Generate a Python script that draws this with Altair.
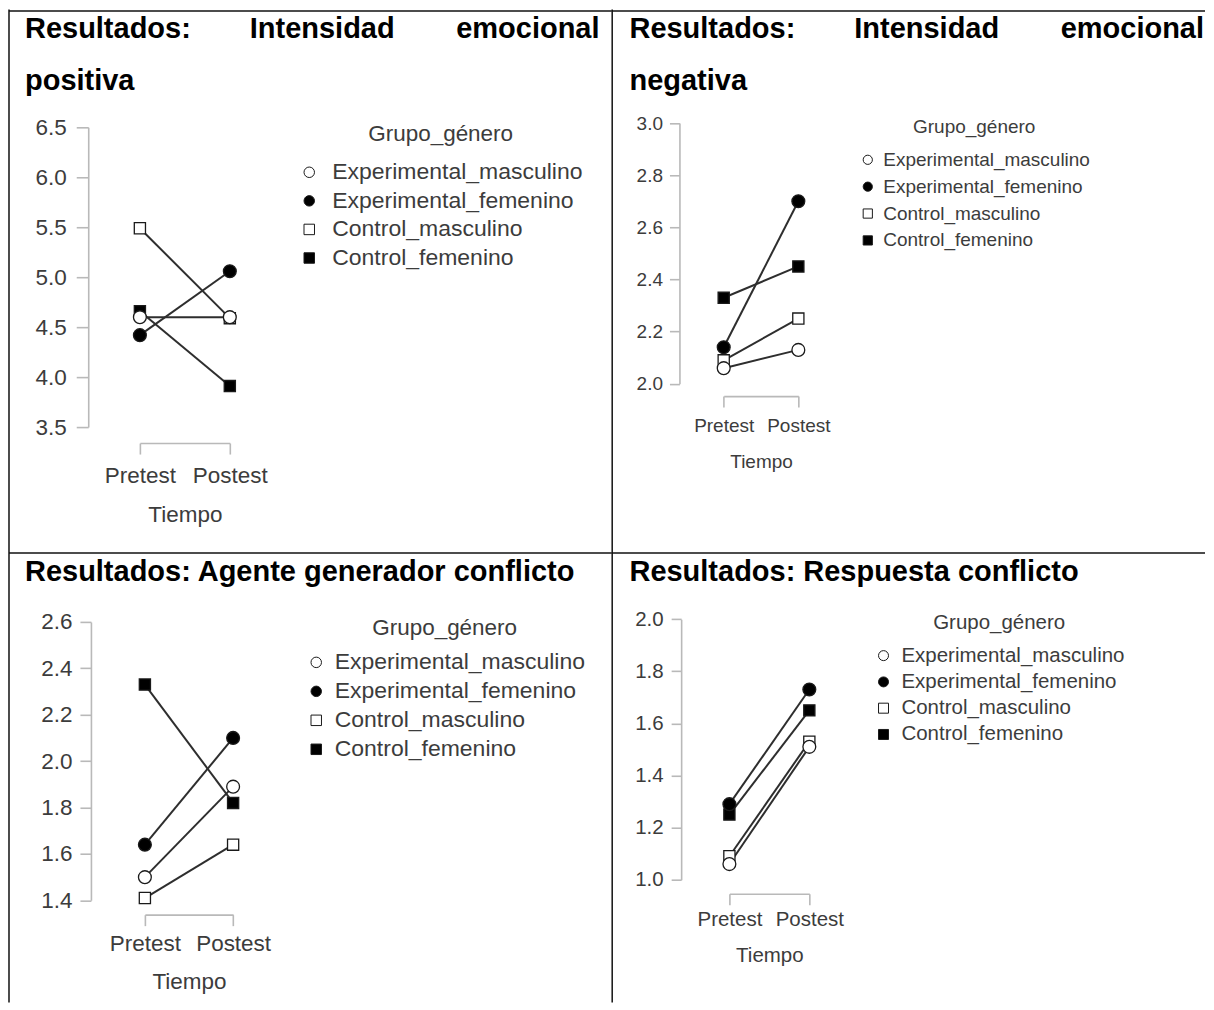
import altair as alt
import pandas as pd

# ---------------- data ----------------
tiempo = ["Pretest", "Postest"]
grupos = ["Experimental_masculino", "Experimental_femenino",
          "Control_masculino", "Control_femenino"]
rellenos = ["white", "black", "white", "black"]
formas = ["circle", "circle", "square", "square"]
bordes = ["#1a1a1a", "#1a1a1a", "#1a1a1a", "#1a1a1a"]

positiva_pre = [4.60, 4.42, 5.49, 4.66]
positiva_post = [4.60, 5.06, 4.59, 3.91]
negativa_pre = [2.06, 2.14, 2.09, 2.33]
negativa_post = [2.13, 2.70, 2.25, 2.45]
agente_pre = [1.50, 1.64, 1.41, 2.33]
agente_post = [1.89, 2.10, 1.64, 1.82]
respuesta_pre = [1.06, 1.29, 1.09, 1.25]
respuesta_post = [1.51, 1.73, 1.53, 1.65]

positiva_ticks = [3.5, 4.0, 4.5, 5.0, 5.5, 6.0, 6.5]
negativa_ticks = [2.0, 2.2, 2.4, 2.6, 2.8, 3.0]
agente_ticks = [1.4, 1.6, 1.8, 2.0, 2.2, 2.4, 2.6]
respuesta_ticks = [1.0, 1.2, 1.4, 1.6, 1.8, 2.0]

titulo_positiva = ["Resultados:", "Intensidad", "emocional", "positiva"]
titulo_negativa = ["Resultados:", "Intensidad", "emocional", "negativa"]
titulo_agente = ["Resultados: Agente generador conflicto"]
titulo_respuesta = ["Resultados: Respuesta conflicto"]

leyenda_titulo = "Grupo_género"
eje_x_titulo = "Tiempo"

# ---------------- layout / style ----------------
FONT = "Liberation Sans"
AXIS_GRAY = "#b9b9b9"
TEXT_GRAY = "#3c3c3c"

layouts = {
    "TL": dict(w=604, h=544, ax=80.3, yr=[418, 118], xr=[132, 222], brk=434,
               fs=22.5, lfs=23, ytick=12, ypad=10, xpad=10, tpad=17,
               lx=290, ly=114, lpad=15, lrow=4.6, loff=11.5, lsym=110,
               words=[(17, 20, "left"), (242, 20, "left"), (592, 20, "right"), (17, 72, "left")],
               rules=[(1, 1.5, 604, 1.5), (1, 0, 1, 544)]),
    "TR": dict(w=594, h=544, ax=68, yr=[374.7, 113.7], xr=[112.3, 187], brk=387,
               fs=19, lfs=19, ytick=10, ypad=7, xpad=9, tpad=17,
               lx=247, ly=109, lpad=13, lrow=6.9, loff=6, lsym=85,
               words=[(18, 20, "left"), (243, 20, "left"), (593, 20, "right"), (18, 72, "left")],
               rules=[(0, 1.5, 594, 1.5), (0.7, 0, 0.7, 544)]),
    "BL": dict(w=604, h=450, ax=83, yr=[347.7, 69], xr=[137, 225.3], brk=362,
               fs=22.5, lfs=23, ytick=11, ypad=8, xpad=7, tpad=15.5,
               lx=297, ly=64, lpad=11.5, lrow=5.0, loff=7, lsym=110,
               words=[(17, 19, "left")],
               rules=[(1, 0, 604, 0), (1, 0, 1, 450)]),
    "BR": dict(w=594, h=450, ax=69.7, yr=[327, 66.3], xr=[118, 198], brk=341,
               fs=20.5, lfs=20.5, ytick=10, ypad=8, xpad=5, tpad=15.5,
               lx=262, ly=60, lpad=12, lrow=5.3, loff=7.7, lsym=100,
               words=[(18, 19, "left")],
               rules=[(0, 0, 594, 0), (0.7, 0, 0.7, 450)]),
}

dummy = pd.DataFrame({"d": [0]})


def panel(pre, post, ticks, words, L):
    df = pd.DataFrame({
        "grupo": grupos * 2,
        "Tiempo": [t for t in tiempo for _ in grupos],
        "Valor": pre + post,
    })
    fs = L["fs"]
    lfs = L["lfs"]
    x_enc = alt.X(
        "Tiempo:N", sort=tiempo,
        scale=alt.Scale(type="point", domain=tiempo, range=L["xr"], padding=0),
        axis=alt.Axis(
            title=eje_x_titulo, orient="bottom", offset=L["brk"] - L["h"],
            domainColor=AXIS_GRAY, domainWidth=1.6, tickColor=AXIS_GRAY, tickWidth=1.6,
            tickSize=11, labelAngle=0, labelFont=FONT, labelFontSize=fs,
            labelColor=TEXT_GRAY, labelPadding=L["xpad"], labelFlush=False,
            titleFont=FONT, titleFontSize=fs, titleFontWeight="normal",
            titleColor=TEXT_GRAY, titlePadding=L["tpad"], grid=False),
    )
    y_enc = alt.Y(
        "Valor:Q",
        scale=alt.Scale(domain=[ticks[0], ticks[-1]], range=L["yr"], zero=False, nice=False),
        axis=alt.Axis(
            title=None, orient="left", offset=-L["ax"], values=ticks, format=".1f",
            domainColor=AXIS_GRAY, domainWidth=1.6, tickColor=AXIS_GRAY, tickWidth=1.6,
            tickSize=L["ytick"], labelFont=FONT, labelFontSize=fs, labelColor=TEXT_GRAY,
            labelPadding=L["ypad"], labelFlush=False, labelOverlap=False, grid=False),
    )
    leg = alt.Legend(
        title=leyenda_titulo, orient="none", legendX=L["lx"], legendY=L["ly"],
        direction="vertical", titleAnchor="middle", titleFont=FONT, titleFontSize=fs,
        titleFontWeight="normal", titleColor=TEXT_GRAY, titlePadding=L["lpad"], titleLimit=0,
        labelFont=FONT, labelFontSize=lfs, labelColor=TEXT_GRAY, labelOffset=L["loff"],
        labelLimit=0, rowPadding=L["lrow"], symbolSize=L["lsym"],
        symbolStrokeWidth=1, padding=0)
    fill_enc = alt.Fill("grupo:N", scale=alt.Scale(domain=grupos, range=rellenos), legend=leg)
    shape_enc = alt.Shape("grupo:N", scale=alt.Scale(domain=grupos, range=formas), legend=leg)
    stroke_enc = alt.Stroke("grupo:N", scale=alt.Scale(domain=grupos, range=bordes), legend=leg)

    base = alt.Chart(df)
    lines = base.mark_line(color="#2e2e2e", strokeWidth=2).encode(
        x=x_enc, y=y_enc, detail="grupo:N")
    squares = base.transform_filter(
        alt.FieldOneOfPredicate(field="grupo", oneOf=grupos[2:])
    ).mark_point(filled=True, size=125, strokeWidth=1.3, opacity=1).encode(
        x=x_enc, y=y_enc, fill=fill_enc, shape=shape_enc, stroke=stroke_enc)
    circles = base.transform_filter(
        alt.FieldOneOfPredicate(field="grupo", oneOf=grupos[:2])
    ).mark_point(filled=True, size=165, strokeWidth=1.3, opacity=1).encode(
        x=x_enc, y=y_enc, fill=fill_enc, shape=shape_enc, stroke=stroke_enc)

    layers = [lines, squares, circles]
    for word, (tx, ty, al) in zip(words, L["words"]):
        layers.append(
            alt.Chart(dummy).mark_text(
                text=word, align=al, baseline="middle", font=FONT, fontSize=29,
                fontWeight="bold", color="black"
            ).encode(x=alt.value(tx), y=alt.value(ty)))
    for (x1, y1, x2, y2) in L["rules"]:
        layers.append(
            alt.Chart(dummy).mark_rule(color="#111111", strokeWidth=1.5).encode(
                x=alt.value(x1), y=alt.value(y1), x2=alt.value(x2), y2=alt.value(y2)))
    return alt.layer(*layers).properties(width=L["w"], height=L["h"])


p1 = panel(positiva_pre, positiva_post, positiva_ticks, titulo_positiva, layouts["TL"])
p2 = panel(negativa_pre, negativa_post, negativa_ticks, titulo_negativa, layouts["TR"])
p3 = panel(agente_pre, agente_post, agente_ticks, titulo_agente, layouts["BL"])
p4 = panel(respuesta_pre, respuesta_post, respuesta_ticks, titulo_respuesta, layouts["BR"])

RS = dict(x="independent", y="independent", fill="independent",
          shape="independent", stroke="independent")
RL = dict(fill="independent", shape="independent", stroke="independent")

chart = alt.concat(p1, p2, p3, p4, columns=2, spacing=0, bounds="flush")
chart = chart.resolve_scale(**RS).resolve_legend(**RL)
chart = chart.properties(padding=0, background="white").configure_view(stroke=None)

chart.save("out.html", embed_options={"renderer": "svg", "actions": False})
